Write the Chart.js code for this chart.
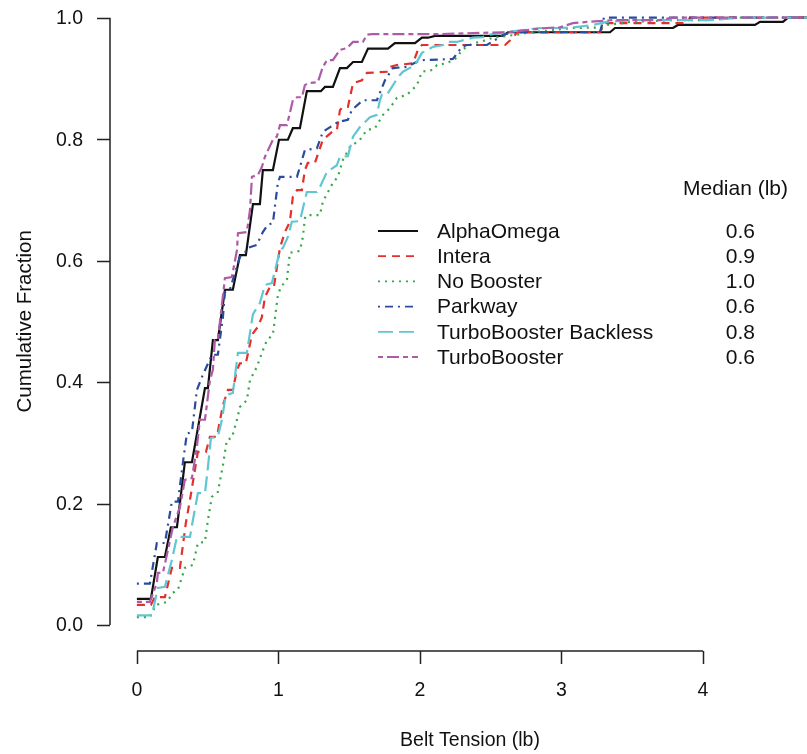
<!DOCTYPE html>
<html>
<head>
<meta charset="utf-8">
<script src="https://cdn.jsdelivr.net/npm/chart.js@4/dist/chart.umd.min.js"></script>
<style>
  html, body { margin: 0; padding: 0; background: #ffffff; }
  #wrap { width: 807px; height: 754px; position: relative; }
</style>
</head>
<body>
<div id="wrap"><canvas id="ecdf" width="807" height="754"></canvas></div>
<script>
// Booster groups and their median belt tension (lb)
const groups  = ['AlphaOmega', 'Intera', 'No Booster', 'Parkway', 'TurboBooster Backless', 'TurboBooster'];
const medians = ['0.6', '0.9', '1.0', '0.6', '0.8', '0.6'];

// Axis ticks
const xTicks = [0, 1, 2, 3, 4];
const yTicks = [0, 0.2, 0.4, 0.6, 0.8, 1.0];
const xTitle = 'Belt Tension (lb)';
const yTitle = 'Cumulative Fraction';
const medianHeader = 'Median (lb)';

// Empirical cumulative curves: belt tension (lb) and cumulative fraction
const alphaOmegaTension = [0, 0.099, 0.148, 0.198, 0.240, 0.283, 0.339, 0.389, 0.481, 0.502, 0.537, 0.572, 0.622, 0.678, 0.728, 0.770, 0.820, 0.869, 0.890, 0.961, 1.004, 1.067, 1.102, 1.152, 1.201, 1.300, 1.329, 1.385, 1.435, 1.484, 1.527, 1.590, 1.633, 1.774, 1.823, 1.965, 2.014, 2.057, 2.106, 2.587, 2.622, 3.343, 3.378, 3.788, 3.823, 4.367, 4.403, 4.565, 4.601, 4.9];
const alphaOmegaFraction = [0.043, 0.043, 0.112, 0.112, 0.161, 0.161, 0.268, 0.268, 0.390, 0.390, 0.469, 0.469, 0.552, 0.552, 0.609, 0.609, 0.693, 0.693, 0.749, 0.749, 0.799, 0.799, 0.818, 0.818, 0.879, 0.879, 0.886, 0.886, 0.917, 0.917, 0.927, 0.927, 0.949, 0.949, 0.958, 0.958, 0.967, 0.967, 0.970, 0.970, 0.976, 0.976, 0.983, 0.983, 0.988, 0.988, 0.993, 0.993, 1.0, 1.0];

const interaTension = [0, 0.099, 0.127, 0.198, 0.247, 0.304, 0.346, 0.375, 0.431, 0.488, 0.516, 0.565, 0.608, 0.643, 0.678, 0.707, 0.728, 0.770, 0.813, 0.855, 0.883, 0.905, 0.940, 0.968, 1.011, 1.046, 1.081, 1.102, 1.131, 1.166, 1.187, 1.208, 1.258, 1.314, 1.385, 1.413, 1.435, 1.456, 1.491, 1.527, 1.590, 1.625, 1.774, 1.788, 1.837, 1.951, 1.986, 2.014, 2.601, 2.657, 2.686, 3.272, 3.307, 3.887, 3.908, 4.9];
const interaFraction = [0.033, 0.033, 0.046, 0.046, 0.094, 0.094, 0.168, 0.206, 0.285, 0.285, 0.310, 0.310, 0.362, 0.387, 0.387, 0.420, 0.431, 0.431, 0.478, 0.491, 0.507, 0.540, 0.557, 0.557, 0.621, 0.647, 0.664, 0.705, 0.716, 0.716, 0.749, 0.761, 0.761, 0.799, 0.813, 0.815, 0.848, 0.853, 0.853, 0.892, 0.897, 0.909, 0.911, 0.919, 0.922, 0.925, 0.947, 0.955, 0.955, 0.967, 0.976, 0.976, 0.991, 0.991, 1.0, 1.0];

const noBoosterTension = [0, 0.092, 0.134, 0.212, 0.254, 0.290, 0.339, 0.396, 0.431, 0.481, 0.502, 0.530, 0.572, 0.608, 0.636, 0.671, 0.707, 0.728, 0.777, 0.799, 0.848, 0.883, 0.919, 0.961, 0.996, 1.018, 1.060, 1.081, 1.152, 1.173, 1.187, 1.201, 1.293, 1.314, 1.385, 1.420, 1.456, 1.505, 1.576, 1.625, 1.682, 1.739, 1.788, 1.837, 1.908, 1.979, 2.014, 2.092, 2.120, 2.191, 2.261, 2.297, 2.375, 2.424, 2.516, 2.686, 2.756, 3.081, 3.293, 3.322, 3.435, 3.484, 3.788, 4.049, 4.212, 4.9];
const noBoosterFraction = [0.013, 0.013, 0.033, 0.038, 0.053, 0.058, 0.094, 0.099, 0.135, 0.137, 0.173, 0.211, 0.219, 0.263, 0.305, 0.308, 0.338, 0.359, 0.370, 0.403, 0.425, 0.448, 0.469, 0.478, 0.543, 0.557, 0.568, 0.613, 0.616, 0.639, 0.670, 0.675, 0.675, 0.697, 0.728, 0.738, 0.766, 0.787, 0.799, 0.815, 0.818, 0.840, 0.851, 0.868, 0.873, 0.889, 0.911, 0.914, 0.922, 0.925, 0.934, 0.947, 0.958, 0.960, 0.967, 0.972, 0.975, 0.983, 0.984, 0.988, 0.991, 0.993, 0.996, 0.996, 1.0, 1.0];

const parkwayTension = [0, 0.092, 0.141, 0.198, 0.247, 0.290, 0.325, 0.353, 0.389, 0.424, 0.459, 0.530, 0.572, 0.608, 0.622, 0.657, 0.693, 0.728, 0.763, 0.784, 0.848, 0.890, 0.926, 0.961, 0.996, 1.011, 1.131, 1.152, 1.187, 1.272, 1.314, 1.420, 1.491, 1.519, 1.597, 1.696, 1.753, 1.809, 1.908, 2.0, 2.233, 2.297, 2.332, 2.473, 2.565, 2.587, 2.657, 3.272, 3.300, 4.9];
const parkwayFraction = [0.068, 0.068, 0.135, 0.135, 0.203, 0.203, 0.267, 0.315, 0.318, 0.387, 0.408, 0.445, 0.445, 0.507, 0.548, 0.552, 0.580, 0.606, 0.613, 0.621, 0.626, 0.647, 0.659, 0.662, 0.728, 0.738, 0.738, 0.754, 0.782, 0.785, 0.812, 0.828, 0.832, 0.848, 0.864, 0.864, 0.897, 0.917, 0.919, 0.930, 0.932, 0.952, 0.955, 0.955, 0.968, 0.972, 0.976, 0.976, 1.0, 1.0];

const backlessTension = [0, 0.106, 0.148, 0.198, 0.247, 0.283, 0.375, 0.396, 0.431, 0.481, 0.502, 0.523, 0.572, 0.601, 0.622, 0.636, 0.678, 0.714, 0.777, 0.820, 0.869, 0.905, 0.954, 1.011, 1.032, 1.067, 1.095, 1.152, 1.187, 1.201, 1.272, 1.293, 1.343, 1.413, 1.435, 1.491, 1.527, 1.576, 1.647, 1.696, 1.717, 1.731, 1.767, 1.845, 1.880, 1.965, 2.014, 2.092, 2.163, 2.191, 2.261, 2.375, 2.445, 2.495, 2.565, 2.848, 2.968, 3.081, 3.223, 3.322, 3.484, 4.049, 4.261, 4.9];
const backlessFraction = [0.016, 0.016, 0.061, 0.063, 0.107, 0.145, 0.145, 0.173, 0.217, 0.217, 0.260, 0.308, 0.310, 0.338, 0.370, 0.379, 0.382, 0.448, 0.448, 0.512, 0.530, 0.560, 0.563, 0.617, 0.621, 0.639, 0.664, 0.665, 0.700, 0.713, 0.713, 0.721, 0.746, 0.757, 0.771, 0.772, 0.804, 0.820, 0.836, 0.840, 0.864, 0.873, 0.873, 0.902, 0.911, 0.922, 0.942, 0.952, 0.955, 0.960, 0.960, 0.967, 0.968, 0.972, 0.975, 0.983, 0.983, 0.984, 0.988, 0.993, 0.996, 0.996, 1.0, 1.0];

const turboTension = [0, 0.092, 0.141, 0.148, 0.184, 0.219, 0.254, 0.304, 0.339, 0.389, 0.424, 0.445, 0.481, 0.516, 0.537, 0.551, 0.572, 0.622, 0.671, 0.707, 0.714, 0.777, 0.799, 0.813, 0.855, 0.883, 0.905, 0.961, 0.989, 1.011, 1.060, 1.081, 1.102, 1.131, 1.166, 1.187, 1.208, 1.279, 1.314, 1.343, 1.385, 1.435, 1.484, 1.527, 1.597, 1.625, 1.661, 2.141, 2.424, 2.615, 2.898, 2.989, 3.081, 3.180, 3.364, 3.696, 3.788, 4.9];
const turboFraction = [0.038, 0.038, 0.069, 0.086, 0.086, 0.123, 0.161, 0.194, 0.239, 0.242, 0.293, 0.338, 0.338, 0.403, 0.420, 0.469, 0.469, 0.571, 0.573, 0.617, 0.645, 0.647, 0.683, 0.738, 0.741, 0.754, 0.771, 0.799, 0.804, 0.823, 0.823, 0.843, 0.864, 0.869, 0.869, 0.889, 0.892, 0.894, 0.919, 0.930, 0.930, 0.947, 0.950, 0.960, 0.960, 0.972, 0.973, 0.973, 0.975, 0.976, 0.983, 0.984, 0.991, 0.993, 0.996, 0.996, 1.0, 1.0];

const tensions  = [alphaOmegaTension, interaTension, noBoosterTension, parkwayTension, backlessTension, turboTension];
const fractions = [alphaOmegaFraction, interaFraction, noBoosterFraction, parkwayFraction, backlessFraction, turboFraction];

// Line appearance per group (solid, dashed, dotted, dot-dash, long dash, two-dash)
const lineColors = ['#111111', '#e3302c', '#35a846', '#2b4c9c', '#5fc6d2', '#ae5ba6'];
const lineDashes = [[], [8, 6], [2, 5], [2, 5, 8, 5], [15, 6], [5, 4, 12, 4]];

const FONT = '"Liberation Sans", Arial, Helvetica, sans-serif';

const datasets = groups.map((name, i) => ({
  label: name,
  data: tensions[i].map((t, k) => ({ x: t, y: fractions[i][k] })),
  borderColor: lineColors[i],
  borderWidth: 2.2,
  borderDash: lineDashes[i],
  borderCapStyle: 'butt',
  borderJoinStyle: 'miter',
  pointRadius: 0,
  showLine: true,
  fill: false,
  tension: 0,
  order: groups.length - i
}));

// Axes drawn in the classic style: a y axis from 0 to 1 and a detached x axis spanning the ticks
const classicAxes = {
  id: 'classicAxes',
  afterDraw(chart) {
    const { ctx, chartArea, scales: { x, y } } = chart;
    ctx.save();
    ctx.strokeStyle = '#222222';
    ctx.lineWidth = 1.5;
    ctx.fillStyle = '#111111';
    ctx.font = '19.5px ' + FONT;

    // y axis
    const ax = chartArea.left;
    ctx.beginPath();
    ctx.moveTo(ax, y.getPixelForValue(yTicks[0]));
    ctx.lineTo(ax, y.getPixelForValue(yTicks[yTicks.length - 1]));
    yTicks.forEach(v => {
      const py = Math.round(y.getPixelForValue(v)) + 0.5;
      ctx.moveTo(ax, py);
      ctx.lineTo(ax - 13, py);
    });
    ctx.stroke();
    ctx.textAlign = 'right';
    ctx.textBaseline = 'middle';
    yTicks.forEach(v => {
      ctx.fillText(v.toFixed(1), ax - 27, y.getPixelForValue(v) + 1);
    });

    // x axis
    const ay = chartArea.bottom;
    ctx.beginPath();
    ctx.moveTo(x.getPixelForValue(xTicks[0]), ay);
    ctx.lineTo(x.getPixelForValue(xTicks[xTicks.length - 1]), ay);
    xTicks.forEach(v => {
      const px = Math.round(x.getPixelForValue(v)) + 0.5;
      ctx.moveTo(px, ay);
      ctx.lineTo(px, ay + 13);
    });
    ctx.stroke();
    ctx.textAlign = 'center';
    xTicks.forEach(v => {
      ctx.fillText(String(v), x.getPixelForValue(v), ay + 40);
    });

    // titles
    ctx.fillText(xTitle, 470, ay + 90);
    ctx.font = '20.5px ' + FONT;
    ctx.translate(25, (y.getPixelForValue(0) + y.getPixelForValue(1)) / 2);
    ctx.rotate(-Math.PI / 2);
    ctx.fillText(yTitle, 0, 0);
    ctx.restore();
  }
};

// Legend with line samples, group names and a median column
const medianLegend = {
  id: 'medianLegend',
  afterDraw(chart) {
    const { ctx } = chart;
    ctx.save();
    ctx.font = '21px ' + FONT;
    ctx.fillStyle = '#111111';
    ctx.textBaseline = 'middle';
    ctx.textAlign = 'left';
    ctx.fillText(medianHeader, 683, 189);
    groups.forEach((name, i) => {
      const rowY = 231 + i * 25.2;
      ctx.beginPath();
      ctx.strokeStyle = lineColors[i];
      ctx.lineWidth = 1.8;
      ctx.setLineDash(lineDashes[i]);
      ctx.moveTo(378, rowY);
      ctx.lineTo(418, rowY);
      ctx.stroke();
      ctx.setLineDash([]);
      ctx.textAlign = 'left';
      ctx.fillText(name, 437, rowY + 1);
      ctx.textAlign = 'right';
      ctx.fillText(medians[i], 755, rowY + 1);
    });
    ctx.restore();
  }
};

new Chart(document.getElementById('ecdf'), {
  type: 'scatter',
  data: { datasets },
  options: {
    responsive: false,
    devicePixelRatio: 1,
    animation: false,
    layout: { padding: { left: 110, right: 0, top: 0, bottom: 103 } },
    plugins: { legend: { display: false }, tooltip: { enabled: false } },
    scales: {
      x: { type: 'linear', min: -0.19, max: 4.735, display: false },
      y: { type: 'linear', min: -0.0428, max: 1.0291, display: false }
    }
  },
  plugins: [classicAxes, medianLegend]
});
</script>
</body>
</html>
